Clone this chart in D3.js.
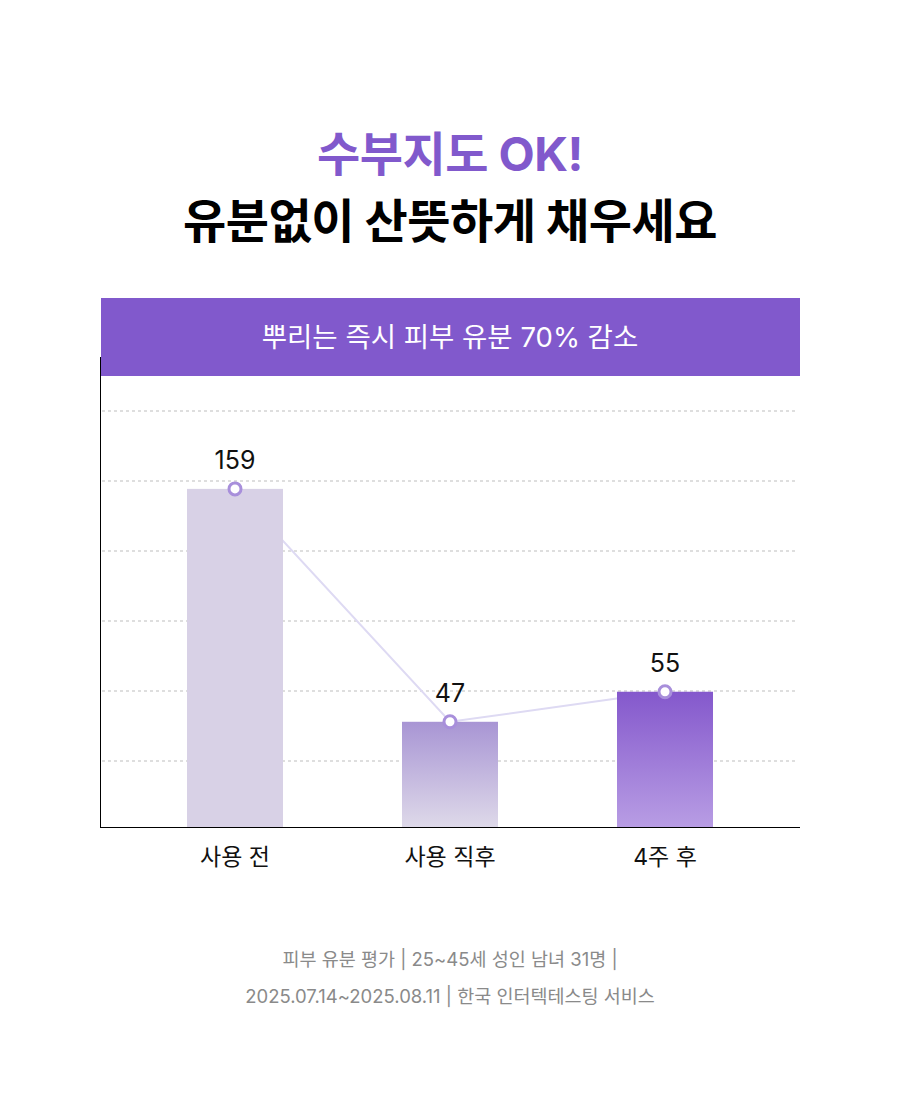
<!DOCTYPE html>
<html lang="ko">
<head>
    <meta charset="UTF-8">
    <title>유분 감소 차트</title>
    <script src="https://cdn.jsdelivr.net/npm/d3@7"></script>
    <style>
        body {
            margin: 0;
            background-color: #ffffff;
        }

        svg {
            display: block;
            font-family: "Inter", "Noto Sans CJK KR", "Noto Sans", sans-serif;
        }
    </style>
</head>
<body>
    <svg id="chart" width="900" height="1102"></svg>

    <script>
        const categories = ["사용 전", "사용 직후", "4주 후"];
        const values = [159, 47, 55];
        const titleLines = ["수부지도 OK!", "유분없이 산뜻하게 채우세요"];
        const headerText = "뿌리는 즉시 피부 유분 70% 감소";
        const footerLines = [
            "피부 유분 평가 | 25~45세 성인 남녀 31명 |",
            "2025.07.14~2025.08.11 | 한국 인터텍테스팅 서비스"
        ];

        const width = 900;
        const purple = "#8159cc";

        const plot = { left: 100, right: 800, top: 411, bottom: 827 };

        const svg = d3.select("#chart");

        // gradients for the bars (first one is flat)
        const defs = svg.append("defs");
        const gradients = [
            { id: "g1", top: "#d8d1e6", bottom: "#d8d1e6" },
            { id: "g2", top: "#a895d4", bottom: "#ded9e9" },
            { id: "g3", top: "#8458cc", bottom: "#b89de4" }
        ];
        gradients.forEach(g => {
            const lg = defs.append("linearGradient")
                .attr("id", g.id)
                .attr("x1", 0).attr("y1", 0)
                .attr("x2", 0).attr("y2", 1);
            lg.append("stop").attr("offset", "0%").attr("stop-color", g.top);
            lg.append("stop").attr("offset", "100%").attr("stop-color", g.bottom);
        });

        // titles
        svg.selectAll(".title")
            .data(titleLines)
            .join("text")
            .attr("class", "title")
            .attr("x", width / 2)
            .attr("y", (d, i) => 171 + i * 67)
            .attr("text-anchor", "middle")
            .attr("font-size", "47px")
            .attr("font-weight", 700)
            .attr("letter-spacing", "-0.5px")
            .attr("fill", (d, i) => i === 0 ? purple : "#000")
            .text(d => d);

        const x = d3.scaleBand()
            .domain(categories)
            .range([127.5, 772.5])
            .paddingInner(0.5535)
            .paddingOuter(0.27675);

        const y = d3.scaleLog()
            .domain([27.1, 239])
            .range([plot.bottom, plot.top]);

        // evenly spaced grid rows
        const grid = d3.scaleLinear()
            .domain([0, 6])
            .range([plot.bottom + 4, plot.top]);

        svg.append("g")
            .selectAll("line")
            .data(d3.range(1, 7))
            .join("line")
            .attr("x1", plot.left + 2)
            .attr("x2", plot.right - 3)
            .attr("y1", d => grid(d))
            .attr("y2", d => grid(d))
            .attr("stroke", "#d4d4d4")
            .attr("stroke-width", 1.5)
            .attr("stroke-dasharray", "3,3");

        const cx = d => x(d) + x.bandwidth() / 2;

        // connecting line behind bars
        const line = d3.line()
            .x((d, i) => cx(categories[i]))
            .y(d => y(d));

        svg.append("path")
            .datum(values)
            .attr("d", line)
            .attr("fill", "none")
            .attr("stroke", "#dedaf3")
            .attr("stroke-width", 2);

        svg.append("g")
            .selectAll("rect")
            .data(values)
            .join("rect")
            .attr("x", (d, i) => x(categories[i]))
            .attr("y", d => y(d))
            .attr("width", x.bandwidth())
            .attr("height", d => plot.bottom - y(d))
            .attr("fill", (d, i) => `url(#${gradients[i].id})`);

        svg.append("g")
            .selectAll("circle")
            .data(values)
            .join("circle")
            .attr("cx", (d, i) => cx(categories[i]))
            .attr("cy", d => y(d))
            .attr("r", 6)
            .attr("fill", "#fff")
            .attr("stroke", "#a88fdb")
            .attr("stroke-width", 3);

        svg.append("g")
            .selectAll("text")
            .data(values)
            .join("text")
            .attr("x", (d, i) => cx(categories[i]))
            .attr("y", d => y(d) - 20)
            .attr("text-anchor", "middle")
            .attr("font-size", "25px")
            .attr("fill", "#111")
            .text(d => d);

        // axes
        svg.append("line")
            .attr("x1", plot.left + 0.5).attr("x2", plot.left + 0.5)
            .attr("y1", 357).attr("y2", plot.bottom)
            .attr("stroke", "#000");

        svg.append("line")
            .attr("x1", plot.left).attr("x2", plot.right)
            .attr("y1", plot.bottom + 0.5).attr("y2", plot.bottom + 0.5)
            .attr("stroke", "#000");

        svg.append("g")
            .selectAll("text")
            .data(categories)
            .join("text")
            .attr("x", d => cx(d))
            .attr("y", 865)
            .attr("text-anchor", "middle")
            .attr("font-size", "23px")
            .attr("fill", "#111")
            .text(d => d);

        // header band
        svg.append("rect")
            .attr("x", plot.left + 1)
            .attr("y", 298)
            .attr("width", plot.right - plot.left - 1)
            .attr("height", 78)
            .attr("fill", purple);

        svg.append("text")
            .attr("x", width / 2)
            .attr("y", 347)
            .attr("text-anchor", "middle")
            .attr("font-size", "27.5px")
            .attr("fill", "#fff")
            .text(headerText);

        // footer
        svg.selectAll(".foot")
            .data(footerLines)
            .join("text")
            .attr("class", "foot")
            .attr("x", width / 2)
            .attr("y", (d, i) => 966 + i * 37)
            .attr("text-anchor", "middle")
            .attr("font-size", "18.5px")
            .attr("fill", "#8a8a8a")
            .text(d => d);
    </script>
</body>
</html>
